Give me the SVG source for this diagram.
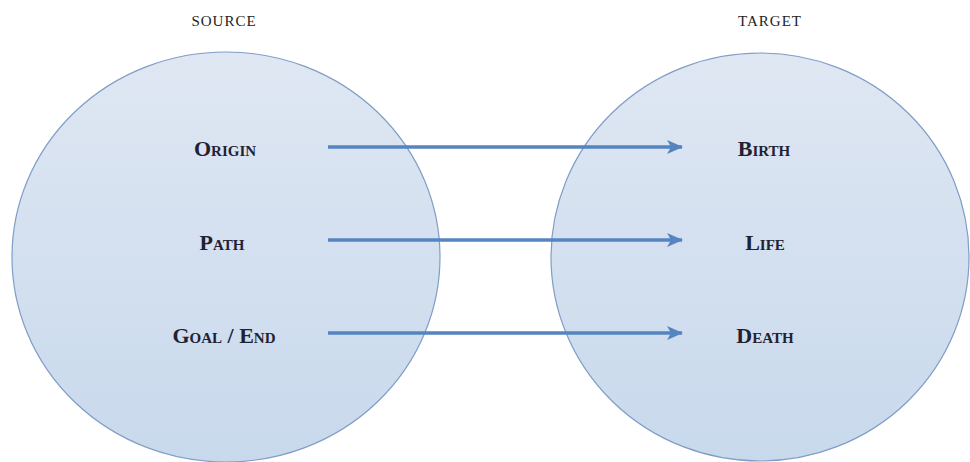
<svg xmlns="http://www.w3.org/2000/svg" width="970" height="462" viewBox="0 0 970 462">
<style>
.circle{fill:url(#g);stroke:#7f9dc6;stroke-width:1.2}
.lbl{font-family:"Liberation Serif","DejaVu Serif",serif;font-size:22px;font-weight:bold;font-variant:small-caps;fill:#1f2233;text-anchor:middle}
.hdr{font-family:"Liberation Serif","DejaVu Serif",serif;font-size:15px;letter-spacing:1px;fill:#222;text-anchor:middle}
.conn{stroke:#5485c0;stroke-width:3.5;fill:none;marker-end:url(#ah)}
</style>
<defs>
<linearGradient id="g" x1="0" y1="0" x2="0" y2="1">
<stop offset="0" stop-color="#dfe7f3"/>
<stop offset="1" stop-color="#c8d9ec"/>
</linearGradient>
<marker id="ah" viewBox="0 0 16 16" refX="15" refY="8" markerWidth="16" markerHeight="16" markerUnits="userSpaceOnUse" orient="auto">
<path d="M0,1 L16,8 L0,15 L4,8 z" fill="#5485c0"/>
</marker>
</defs>
<rect width="970" height="462" fill="#ffffff"/>
<g id="source">
<ellipse class="circle" cx="226" cy="257" rx="214" ry="205"/>
<text class="hdr" x="224" y="26">SOURCE</text>
</g>
<g id="target">
<ellipse class="circle" cx="760" cy="257" rx="209" ry="204"/>
<text class="hdr" x="770" y="26">TARGET</text>
</g>
<g id="origin"><text class="lbl" x="225" y="156">Origin</text></g>
<g id="path"><text class="lbl" x="222" y="250">Path</text></g>
<g id="goal"><text class="lbl" x="224" y="343">Goal / End</text></g>
<g id="birth"><text class="lbl" x="764" y="156">Birth</text></g>
<g id="life"><text class="lbl" x="765" y="250">Life</text></g>
<g id="death"><text class="lbl" x="765" y="343">Death</text></g>
<g id="connectors">
<line class="conn" x1="328" y1="147" x2="682" y2="147"/>
<line class="conn" x1="328" y1="240" x2="682" y2="240"/>
<line class="conn" x1="328" y1="333" x2="682" y2="333"/>
</g>
</svg>
